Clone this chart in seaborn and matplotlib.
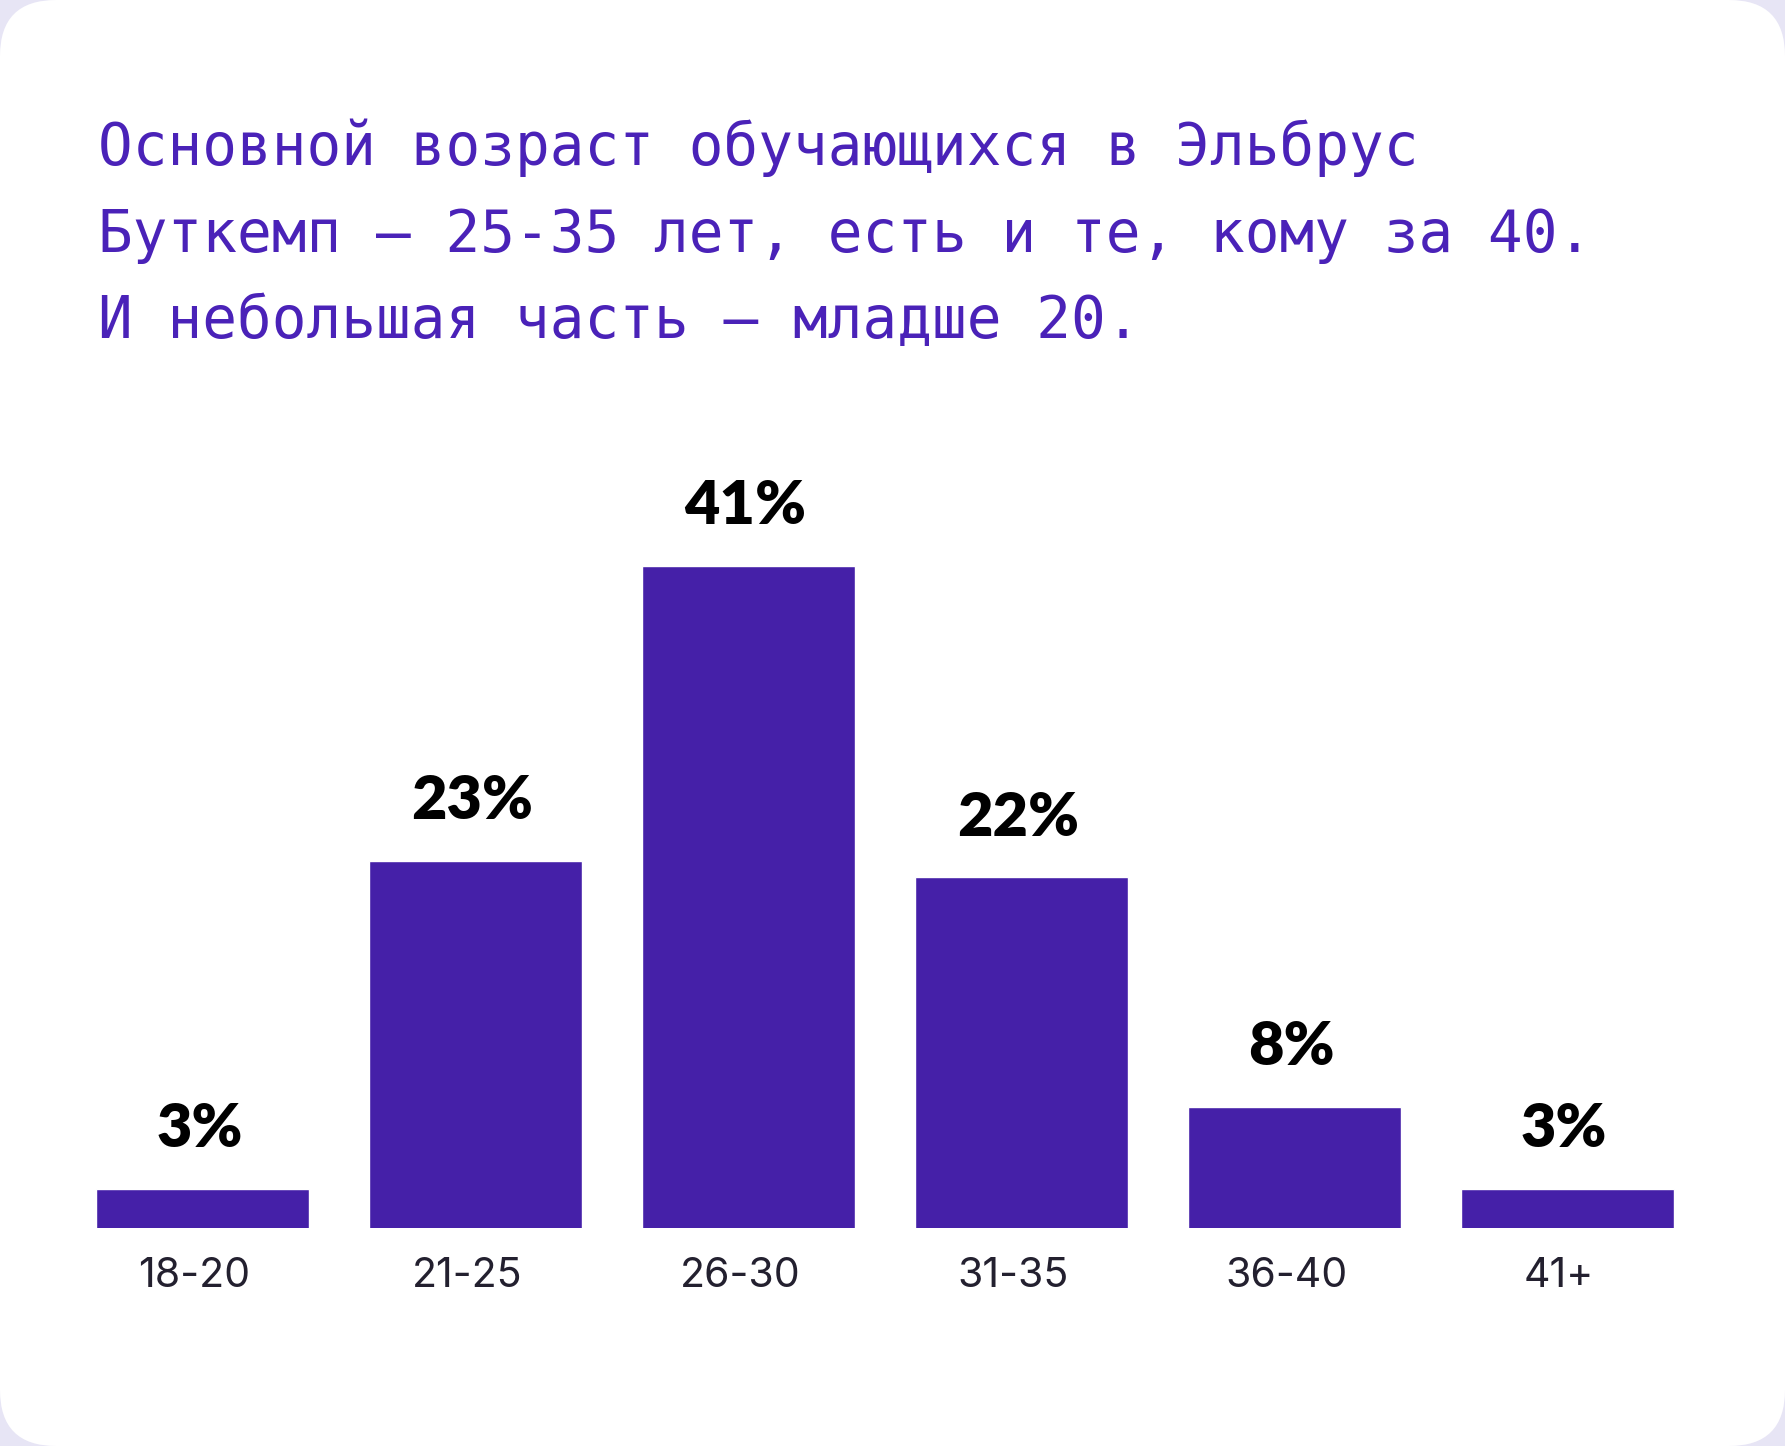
import matplotlib
matplotlib.use("Agg")
import matplotlib.pyplot as plt
from matplotlib.patches import FancyBboxPatch
from matplotlib.transforms import ScaledTranslation
import seaborn as sns
import pandas as pd

# ---- data ----
categories = ["18-20", "21-25", "26-30", "31-35", "36-40", "41+"]
values = [3, 23, 41, 22, 8, 3]
value_labels = ["3%", "23%", "41%", "22%", "8%", "3%"]
title_lines = [
    "Основной возраст обучающихся в Эльбрус",
    "Буткемп – 25-35 лет, есть и те, кому за 40.",
    "И небольшая часть – младше 20.",
]

BAR_COLOR = "#4520A8"
TITLE_COLOR = "#4A22B8"
BG_COLOR = "#E7E5F5"

sns.set_theme(style="white")
plt.rcParams["font.family"] = ["DejaVu Sans"]

W, H, DPI = 17.85, 14.46, 100
fig = plt.figure(figsize=(W, H), dpi=DPI, facecolor=BG_COLOR)

# white rounded card
card = FancyBboxPatch((0.0, 0.0), W, H,
                      boxstyle="round,pad=0,rounding_size=0.56",
                      transform=fig.dpi_scale_trans,
                      facecolor="white", edgecolor="none", zorder=0)
fig.add_artist(card)

# title
baselines_px = [165, 252, 338]
for line, ypx in zip(title_lines, baselines_px):
    fig.text(98 / 1785, 1 - ypx / 1446, line, color=TITLE_COLOR,
             fontsize=41.5, family=["DejaVu Sans Mono"], va="baseline", ha="left")

ax = fig.add_axes([0.03686, 0.1508, 0.9175, 0.5035])
ax.set_facecolor("none")

df = pd.DataFrame({"age": categories, "share": values})
sns.barplot(data=df, x="age", y="share", color=BAR_COLOR, saturation=1,
            width=0.78, ax=ax, order=categories)

ax.set_xlim(-0.5, 5.5)
ax.set_ylim(0.62, 45)
for s in ax.spines.values():
    s.set_visible(False)
ax.set_yticks([])
ax.set_xlabel("")
ax.set_ylabel("")
ax.tick_params(axis="x", length=0, pad=21, labelsize=29.5, labelcolor="#23202F")
shift = ScaledTranslation(-8 / DPI, 0, fig.dpi_scale_trans)
for t in ax.get_xticklabels():
    t.set_family(["Inter", "DejaVu Sans"])
    t.set_transform(t.get_transform() + shift)

for i, (v, lab) in enumerate(zip(values, value_labels)):
    ax.annotate(lab, xy=(i, v), xytext=(-2, 30), textcoords="offset points",
                ha="center", va="baseline", fontsize=44, fontweight="heavy",
                family=["Lato", "DejaVu Sans"], color="black")

fig.savefig("out.png", dpi=DPI, facecolor=BG_COLOR)
